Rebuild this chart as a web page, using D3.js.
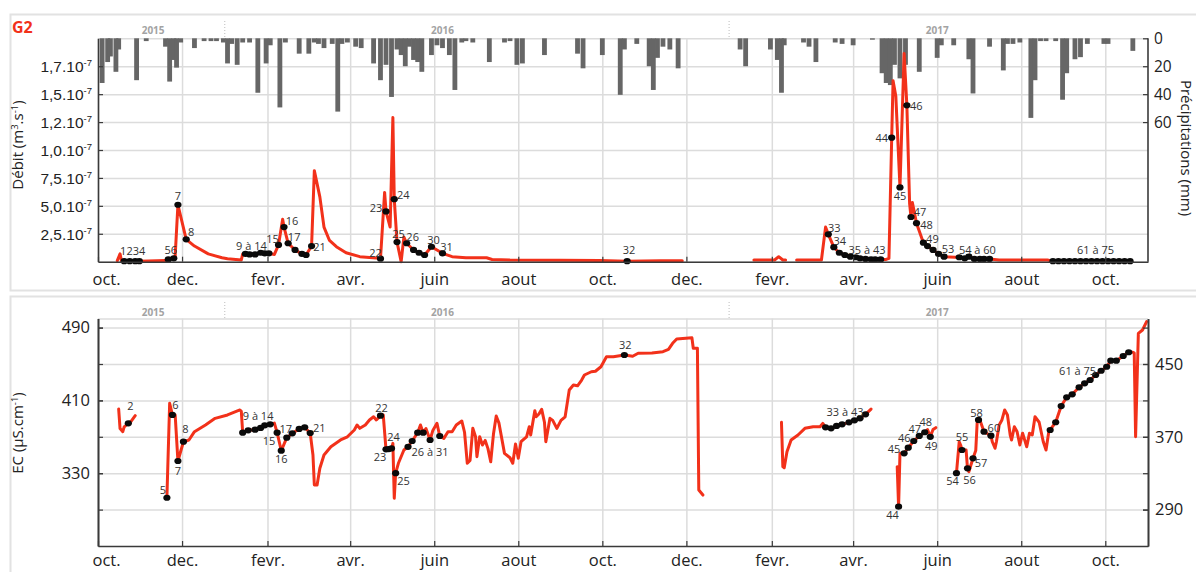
<!DOCTYPE html>
<html>
<head>
<meta charset="utf-8">
<script src="https://cdn.jsdelivr.net/npm/d3@7"></script>
<style>
  body { margin: 0; background: #fff; }
  svg { display: block; font-family: "Open Sans", "DejaVu Sans", sans-serif; }
</style>
</head>
<body>
<svg id="chart" width="1196" height="572"></svg>
<script>
// ---------------------------------------------------------------------------
// Data
// ---------------------------------------------------------------------------
const monthTickDates = ["2015-10-01","2015-12-01","2016-02-01","2016-04-01","2016-06-01","2016-08-01",
  "2016-10-01","2016-12-01","2017-02-01","2017-04-01","2017-06-01","2017-08-01","2017-10-01"];
const monthLabels = ["oct.","dec.","fevr.","avr.","juin","aout","oct.","dec.","fevr.","avr.","juin","aout","oct."];

const yearLabels = ["2015", "2016", "2017"];
const yearLabelDates = ["2015-11-10", "2016-06-07", "2017-06-01"];
const yearBreakDates = ["2016-01-01", "2017-01-01"];

// discharge axis (plotted units), with its printed labels
const debitTicks = [2.5, 5, 7.5, 10, 12.5, 15, 17.5];
const debitTickText = ["2,5.10", "5,0.10", "7,5.10", "1,0.10", "1,2.10", "1,5.10", "1,7.10"];
const debitTickExp = "-7";
const precipTicks = [0, 20, 40, 60];
const ecTicksLeft = [330, 410, 490];
const ecTicksRight = [290, 370, 450];
const ecGrid = [290, 330, 370, 410, 450, 490];

// daily rainfall (mm)
const precip = [
  ["2015-10-04",32],["2015-10-08",17],["2015-10-10",13],["2015-10-14",24],["2015-10-16",8],["2015-10-29",30],
  ["2015-11-05",2],["2015-11-19",6],["2015-11-22",31],["2015-11-25",15.5],["2015-11-27",21],["2015-11-30",3],
  ["2015-12-10",7],["2015-12-17",2],["2015-12-22",2],["2015-12-26",2],["2015-12-31",3],["2016-01-03",18],
  ["2016-01-06",4],["2016-01-10",19],["2016-01-14",3],["2016-01-19",3],["2016-01-25",39],["2016-01-31",18],
  ["2016-02-03",5],["2016-02-10",49.5],["2016-02-14",3],["2016-02-24",11],["2016-03-02",11],["2016-03-06",3],
  ["2016-03-09",4],["2016-03-13",7],["2016-03-19",4],["2016-03-23",52.5],["2016-03-26",4],["2016-03-30",3],
  ["2016-04-05",6],["2016-04-09",7],["2016-04-18",18],["2016-04-23",30],["2016-04-27",19],["2016-05-01",42],
  ["2016-05-05",8],["2016-05-08",12],["2016-05-11",20],["2016-05-14",6],["2016-05-17",15.5],["2016-05-20",17],
  ["2016-05-23",24],["2016-05-30",12],["2016-06-03",5],["2016-06-07",7],["2016-06-12",12],["2016-06-16",37],
  ["2016-06-21",3],["2016-06-24",2],["2016-06-29",3],["2016-07-11",17],["2016-07-22",3],["2016-07-26",2],
  ["2016-07-31",19],["2016-08-04",18],["2016-08-20",12],["2016-09-13",11],["2016-09-17",21.5],["2016-10-01",12],
  ["2016-10-14",40.5],["2016-10-17",8],["2016-10-26",4],["2016-11-04",20],["2016-11-07",37],["2016-11-10",14],
  ["2016-11-14",6],["2016-11-19",8],["2016-11-25",21.5],["2017-01-09",8],["2017-01-13",20],["2017-01-31",8],
  ["2017-02-05",15.5],["2017-02-08",39],["2017-02-10",5],["2017-02-24",3],["2017-02-28",6],["2017-03-05",17],
  ["2017-03-19",3],["2017-03-24",4],["2017-04-01",5],["2017-04-15",1],["2017-04-22",25],["2017-04-25",32],
  ["2017-04-28",33.5],["2017-05-01",19],["2017-05-05",28.7],["2017-05-09",19],["2017-05-19",24],["2017-06-01",14],
  ["2017-06-04",5],["2017-06-13",5],["2017-06-24",15],["2017-06-27",39.5],["2017-07-09",6],["2017-07-19",23],
  ["2017-07-22",4],["2017-07-26",4],["2017-07-31",3],["2017-08-08",57],["2017-08-11",30],["2017-08-15",2],
  ["2017-08-19",2],["2017-08-26",2],["2017-08-31",44],["2017-09-03",25],["2017-09-09",15],["2017-09-13",13.5],
  ["2017-09-18",4],["2017-09-30",4],["2017-10-03",4],["2017-10-21",9]
];

// discharge (plotted units); null marks a gap in the record
const debit = [
  ["2015-10-15",0.1],["2015-10-17",0.7],["2015-10-18",0.1],["2015-10-20",0.05],["2015-10-24",0.05],
  ["2015-10-28",0.05],["2015-10-31",0.05],["2015-11-19",0.1],["2015-11-21",0.2],["2015-11-25",0.3],
  ["2015-11-26",0.5],["2015-11-28",5.1],["2015-12-04",2.0],["2015-12-10",1.4],["2015-12-20",0.7],
  ["2015-12-30",0.35],["2016-01-03",0.27],["2016-01-13",0.15],["2016-01-14",0.69],["2016-01-16",0.7],
  ["2016-01-19",0.65],["2016-01-23",0.65],["2016-01-27",0.8],["2016-01-30",0.75],["2016-02-02",0.75],
  ["2016-02-06",0.65],["2016-02-09",1.5],["2016-02-12",3.8],["2016-02-13",3.1],["2016-02-16",1.65],
  ["2016-02-21",1.05],["2016-02-26",0.7],["2016-02-29",0.6],["2016-03-04",1.4],["2016-03-06",8.15],
  ["2016-03-10",5.8],["2016-03-13",3.1],["2016-03-17",1.9],["2016-03-22",1.34],["2016-03-29",0.8],
  ["2016-04-08",0.45],["2016-04-22",0.3],["2016-04-23",0.27],["2016-04-26",6.2],["2016-04-27",4.5],
  ["2016-04-30",3.1],["2016-05-02",12.9],["2016-05-03",5.6],["2016-05-05",1.76],["2016-05-08",0.0],
  ["2016-05-10",2.2],["2016-05-12",1.65],["2016-05-17",1.05],["2016-05-21",0.8],["2016-05-25",0.6],
  ["2016-05-30",1.34],["2016-06-07",0.75],["2016-06-14",0.45],["2016-06-24",0.35],["2016-07-09",0.35],
  ["2016-07-13",0.2],["2016-07-26",0.15],["2016-08-31",0.12],["2016-09-29",0.1],["2016-10-19",0.05],
  ["2016-11-12",0.08],["2016-11-28",0.08],
  ["2016-12-15",null],
  ["2017-01-19",0.15],["2017-02-03",0.15],["2017-02-06",0.45],["2017-02-09",0.15],["2017-02-11",0.15],
  ["2017-02-15",null],
  ["2017-02-19",0.15],["2017-03-09",0.15],["2017-03-12",3.1],["2017-03-14",2.45],["2017-03-18",1.3],
  ["2017-03-22",0.8],["2017-03-26",0.6],["2017-03-30",0.45],["2017-04-03",0.4],["2017-04-06",0.3],
  ["2017-04-10",0.25],["2017-04-14",0.22],["2017-04-17",0.2],["2017-04-21",0.2],["2017-04-25",0.2],
  ["2017-04-27",0.3],["2017-04-29",11.1],["2017-04-30",16.2],["2017-05-02",14.8],["2017-05-05",6.65],
  ["2017-05-08",18.65],["2017-05-10",14.0],["2017-05-12",5.2],["2017-05-13",4.0],["2017-05-14",5.3],
  ["2017-05-17",3.45],["2017-05-22",1.7],["2017-05-25",1.4],["2017-05-29",1.05],["2017-06-02",0.7],
  ["2017-06-06",0.45],["2017-06-14",0.4],["2017-06-17",0.4],["2017-06-21",0.3],["2017-06-24",0.45],
  ["2017-06-28",0.25],["2017-07-02",0.25],["2017-07-05",0.25],["2017-07-09",0.25],["2017-07-16",0.15],
  ["2017-08-20",0.15],["2017-08-24",0.05],["2017-09-21",0.05],["2017-10-19",0.05]
];

// electrical conductivity (µS/cm); null marks a gap in the record
const ec = [
  ["2015-10-16",400.5],["2015-10-17",379],["2015-10-19",375.6],["2015-10-20",381],["2015-10-23",384.8],
  ["2015-10-25",387],["2015-10-28",393.2],
  ["2015-11-05",null],
  ["2015-11-20",303],["2015-11-22",406.8],["2015-11-24",394],["2015-11-26",394],["2015-11-28",343.4],
  ["2015-12-02",364.6],["2015-12-06",366.5],["2015-12-10",375.6],["2015-12-18",383],["2015-12-25",390.3],
  ["2016-01-03",394],["2016-01-12",399.5],["2016-01-13",398],["2016-01-14",374.5],["2016-01-18",377.1],
  ["2016-01-23",377.8],["2016-01-27",379.7],["2016-01-30",382.6],["2016-02-03",383.7],["2016-02-06",385],
  ["2016-02-08",374.5],["2016-02-11",354.7],["2016-02-15",369],["2016-02-19",373.8],["2016-02-24",378.6],
  ["2016-02-28",380.4],["2016-03-03",374.2],["2016-03-05",350],["2016-03-06",317],["2016-03-08",317],
  ["2016-03-10",335.4],["2016-03-13",350],["2016-03-18",359],["2016-03-25",366.5],["2016-03-30",370],
  ["2016-04-04",377.5],["2016-04-06",383],["2016-04-08",379.3],["2016-04-12",383],["2016-04-15",388.5],
  ["2016-04-18",392],["2016-04-20",388.5],["2016-04-23",393.2],["2016-04-25",394],["2016-04-27",356.2],
  ["2016-04-29",356.5],["2016-05-01",357.2],["2016-05-02",362.8],["2016-05-03",302.4],["2016-05-04",330],
  ["2016-05-06",340.9],["2016-05-10",355.5],["2016-05-13",359],["2016-05-16",365.4],["2016-05-20",374.5],
  ["2016-05-22",383],["2016-05-24",374.5],["2016-05-26",379],["2016-05-29",366.5],["2016-05-31",377],
  ["2016-06-03",384.8],["2016-06-05",370.9],["2016-06-08",368.3],["2016-06-11",375.6],["2016-06-14",375.6],
  ["2016-06-17",383],["2016-06-21",387.4],["2016-06-23",375],["2016-06-25",340.9],["2016-06-27",344],
  ["2016-06-29",379.3],["2016-07-01",370],["2016-07-02",348.2],["2016-07-04",370],["2016-07-06",361],
  ["2016-07-08",366],["2016-07-10",357],["2016-07-12",342.6],["2016-07-14",373],["2016-07-16",392.9],
  ["2016-07-18",385],["2016-07-22",351.8],["2016-07-26",347],["2016-07-28",340.9],["2016-07-30",362],
  ["2016-08-01",346.4],["2016-08-03",364.6],["2016-08-07",370],["2016-08-09",381.1],["2016-08-10",372],
  ["2016-08-13",398.7],["2016-08-14",392],["2016-08-16",395],["2016-08-18",400.2],["2016-08-20",386],
  ["2016-08-21",364.6],["2016-08-24",390.3],["2016-08-26",388],["2016-08-29",379.3],["2016-09-01",388],
  ["2016-09-04",392],["2016-09-07",421.4],["2016-09-10",426.9],["2016-09-13",426],["2016-09-16",432.4],
  ["2016-09-18",437.9],["2016-09-23",441.5],["2016-09-26",442],["2016-09-30",447],["2016-10-02",452.5],
  ["2016-10-04",458],["2016-10-09",458],["2016-10-17",459.9],["2016-10-23",458.5],["2016-10-27",461.8],
  ["2016-11-06",462],["2016-11-14",463.5],["2016-11-18",466],["2016-11-21",472.7],["2016-11-24",477.5],
  ["2016-12-05",478.9],["2016-12-06",467.3],["2016-12-09",467.3],["2016-12-10",311.5],["2016-12-13",306],
  ["2017-01-10",null],
  ["2017-02-08",386],["2017-02-09",337.2],["2017-02-10",336],["2017-02-12",353.6],["2017-02-15",366.5],
  ["2017-02-20",372],["2017-02-25",379.3],["2017-03-03",381.1],["2017-03-08",381],["2017-03-10",384.8],
  ["2017-03-12",380.4],["2017-03-16",379.3],["2017-03-20",381.9],["2017-03-24",383.7],["2017-03-29",385.9],
  ["2017-04-02",388.1],["2017-04-06",390.3],["2017-04-10",394.7],["2017-04-14",400.5],
  ["2017-04-20",null],
  ["2017-05-03",337.2],["2017-05-04",293.2],["2017-05-05",351.8],["2017-05-08",351.8],["2017-05-11",358],
  ["2017-05-15",365.4],["2017-05-19",371],["2017-05-23",375],["2017-05-25",378],["2017-05-27",370],
  ["2017-05-29",378],["2017-05-31",380],
  ["2017-06-08",null],
  ["2017-06-15",330],["2017-06-17",364.6],["2017-06-18",361],["2017-06-19",355.5],["2017-06-22",355.5],
  ["2017-06-23",335.4],["2017-06-24",331.6],["2017-06-27",346.4],["2017-06-29",355],["2017-06-30",385],
  ["2017-07-01",388.5],["2017-07-02",388.5],["2017-07-05",375.6],["2017-07-10",371.2],["2017-07-11",364.6],
  ["2017-07-13",357.4],["2017-07-14",364.6],["2017-07-16",383],["2017-07-18",388.5],["2017-07-20",399.5],
  ["2017-07-22",394],["2017-07-24",372],["2017-07-25",366.5],["2017-07-27",381.1],["2017-07-29",375.6],
  ["2017-07-31",361],["2017-08-02",374],["2017-08-05",359],["2017-08-07",374],["2017-08-09",372],
  ["2017-08-11",392],["2017-08-14",386],["2017-08-17",364.6],["2017-08-19",355.5],["2017-08-21",375.6],
  ["2017-08-22",377.5],["2017-08-26",386],["2017-08-30",403.8],["2017-09-03",413.4],["2017-09-07",416.7],
  ["2017-09-12",424.4],["2017-09-16",428.8],["2017-09-20",432.4],["2017-09-24",437.9],["2017-09-28",442.6],
  ["2017-10-02",447],["2017-10-05",453.6],["2017-10-09",453.6],["2017-10-14",458.8],["2017-10-18",462.9],
  ["2017-10-21",463],["2017-10-22",462],["2017-10-23",370],["2017-10-25",483.7],["2017-10-28",487.4],
  ["2017-10-31",496.5]
];

// sampling dates (id, date) on each record
const debitSamples = [
  ["1","2015-10-20"],["2","2015-10-24"],["3","2015-10-28"],["4","2015-10-31"],["5","2015-11-21"],["6","2015-11-25"],
  ["7","2015-11-28"],["8","2015-12-04"],["9","2016-01-16"],["10","2016-01-19"],["11","2016-01-23"],["12","2016-01-27"],
  ["13","2016-01-30"],["14","2016-02-02"],["15","2016-02-09"],["16","2016-02-13"],["17","2016-02-16"],["18","2016-02-21"],
  ["19","2016-02-26"],["20","2016-02-29"],["21","2016-03-04"],["22","2016-04-23"],["23","2016-04-27"],["24","2016-05-03"],
  ["25","2016-05-05"],["26","2016-05-12"],["27","2016-05-17"],["28","2016-05-21"],["29","2016-05-25"],["30","2016-05-30"],
  ["31","2016-06-07"],["32","2016-10-19"],["33","2017-03-14"],["34","2017-03-18"],["35","2017-03-22"],["36","2017-03-26"],
  ["37","2017-03-30"],["38","2017-04-03"],["39","2017-04-06"],["40","2017-04-10"],["41","2017-04-14"],["42","2017-04-17"],
  ["43","2017-04-21"],["44","2017-04-29"],["45","2017-05-05"],["46","2017-05-10"],["47","2017-05-13"],["48","2017-05-17"],
  ["49","2017-05-22"],["50","2017-05-25"],["51","2017-05-29"],["52","2017-06-02"],["53","2017-06-06"],["54","2017-06-17"],
  ["55","2017-06-21"],["56","2017-06-24"],["57","2017-06-28"],["58","2017-07-02"],["59","2017-07-05"],["60","2017-07-09"],
  ["61","2017-08-24"],["62","2017-08-28"],["63","2017-09-01"],["64","2017-09-05"],["65","2017-09-09"],["66","2017-09-13"],
  ["67","2017-09-17"],["68","2017-09-21"],["69","2017-09-25"],["70","2017-09-29"],["71","2017-10-03"],["72","2017-10-07"],
  ["73","2017-10-11"],["74","2017-10-15"],["75","2017-10-19"]
];
const ecSamples = [
  ["2","2015-10-23"],["5","2015-11-20"],["6","2015-11-24"],["7","2015-11-28"],["8","2015-12-02"],
  ["9","2016-01-14"],["10","2016-01-18"],["11","2016-01-23"],["12","2016-01-27"],["13","2016-01-30"],["14","2016-02-03"],
  ["15","2016-02-08"],["16","2016-02-11"],["17","2016-02-15"],["18","2016-02-19"],["19","2016-02-24"],["20","2016-02-28"],
  ["21","2016-03-03"],["22","2016-04-23"],["23","2016-04-27"],["23b","2016-04-29"],["24","2016-05-01"],["25","2016-05-04"],
  ["26","2016-05-13"],["27","2016-05-16"],["28","2016-05-20"],["29","2016-05-24"],["30","2016-05-29"],["31","2016-06-05"],
  ["32","2016-10-17"],["33","2017-03-12"],["34","2017-03-16"],["35","2017-03-20"],["36","2017-03-24"],["37","2017-03-29"],
  ["38","2017-04-02"],["39","2017-04-06"],["40","2017-04-10"],["44","2017-05-04"],["45","2017-05-08"],["46","2017-05-11"],
  ["47","2017-05-15"],["47b","2017-05-19"],["48","2017-05-23"],["49","2017-05-27"],["54","2017-06-15"],["55","2017-06-19"],
  ["56","2017-06-23"],["57","2017-06-27"],["58","2017-07-01"],["59","2017-07-05"],["60","2017-07-10"],
  ["61","2017-08-22"],["62","2017-08-26"],["63","2017-08-30"],["64","2017-09-03"],["65","2017-09-07"],["66","2017-09-12"],
  ["67","2017-09-16"],["68","2017-09-20"],["69","2017-09-24"],["70","2017-09-28"],["71","2017-10-02"],["72","2017-10-05"],
  ["73","2017-10-09"],["74","2017-10-14"],["75","2017-10-18"]
];

// sample labels: text, sample it belongs to
const debitLabels = [
  ["1234","2"],["56","5"],["7","7"],["8","8"],["9 à 14","9"],["15","15"],["16","16"],["17","17"],["21","21"],
  ["22","22"],["23","23"],["24","24"],["25","25"],["26","26"],["30","30"],["31","31"],["32","32"],["33","33"],
  ["34","34"],["35 à 43","39"],["44","44"],["45","45"],["46","46"],["47","47"],["48","48"],["49","49"],["53","53"],
  ["54 à 60","57"],["61 à 75","68"]
];
const ecLabels = [
  ["2","2"],["5","5"],["6","6"],["7","7"],["8","8"],["9 à 14","11"],["15","15"],["16","16"],["17","17"],["21","21"],
  ["22","22"],["23","23"],["24","24"],["25","25"],["26 à 31","30"],["32","32"],["33 à 43","37"],["44","44"],["45","45"],
  ["46","46"],["47","47"],["48","48"],["49","49"],["54","54"],["55","55"],["56","56"],["57","57"],["58","58"],["60","60"],
  ["61 à 75","67"]
];

// ---------------------------------------------------------------------------
// Layout
// ---------------------------------------------------------------------------
// label offsets (px) from the sample dot to the label centre
const debitLabelOffset = {
  "1234":[3,-10.5],"56":[2.5,-9.5],"7":[0,-9.5],"8":[5,-7.5],"9 à 14":[6,-8],"15":[-6,-6],"16":[8,-7],"17":[6,-7],
  "21":[8,0.5],"22":[-5,-6],"23":[-10,-4],"24":[9,-5],"25":[1.5,-9],"26":[6,-7],"30":[2,-7.5],"31":[4,-7],
  "32":[2,-11.5],"33":[6,-7],"34":[6,-7],"35 à 43":[7,-8.7],"44":[-10,0],"45":[0,8],"46":[9.5,0],"47":[9,-6],
  "48":[10,1],"49":[9,-4],"53":[4,-8],"54 à 60":[3,-9],"61 à 75":[4,-11.5]
};
const ecLabelOffset = {
  "2":[2,-18],"5":[-4,-8],"6":[3,-10],"7":[0,9],"8":[2,-13],"9 à 14":[3,-14],"15":[-8,8],"16":[0,8],"17":[-1,-9],
  "21":[9,-5],"22":[1,-8],"23":[-6,7],"24":[2,-12],"25":[8,7],"26 à 31":[0,12],"32":[1,-10],"33 à 43":[-4,-11],
  "44":[-6,8],"45":[-10,-5],"46":[-4,-10.5],"47":[1,-12.5],"48":[1,-11],"49":[1,8.5],"54":[-4,7],"55":[0,-13],
  "56":[2,11],"57":[8,4],"58":[-2,-7],"60":[3,-8],"61 à 75":[-7,-13]
};

const RED = "#f2311a";
const GRID = "#dcdcdc";
const AXIS = "#3a3a3a";
const TEXT = "#222";

const parse = d3.timeParse("%Y-%m-%d");
const svg = d3.select("#chart");

const X0 = 98, X1 = 1148;
const x = d3.scaleTime().domain([parse("2015-10-01"), parse("2017-11-01")]).range([X0, X1]);

const P1 = { t: 38.3, b: 261.7 };   // discharge / rainfall panel
const P2 = { t: 318.5, b: 546 };    // conductivity panel

const yQ = d3.scaleLinear().domain([0, 20]).range([P1.b, P1.t]);
const yP = d3.scaleLinear().domain([0, 160]).range([P1.t, P1.b]);
const yE = d3.scaleLinear().domain([250, 500]).range([P2.b, P2.t]);

const monthDates = monthTickDates.map(parse);

// value of a record at a given date
function valueAt(series, dateStr) {
  const t = parse(dateStr).getTime();
  for (let i = 0; i < series.length; i++) {
    const [d, v] = series[i];
    const ti = parse(d).getTime();
    if (ti === t && v != null) return v;
    if (i + 1 < series.length) {
      const [d2, v2] = series[i + 1];
      const t2 = parse(d2).getTime();
      if (v != null && v2 != null && ti < t && t < t2) return v + (v2 - v) * (t - ti) / (t2 - ti);
    }
  }
  return null;
}

// text made of plain and raised (exponent) parts
function supText(sel, parts, supSize, rise) {
  let raised = false;
  parts.forEach(([s, sup]) => {
    const ts = sel.append("tspan").text(s);
    if (sup) {
      ts.attr("font-size", supSize).attr("dy", raised ? 0 : -rise);
      raised = true;
    } else if (raised) {
      ts.attr("dy", rise);
      raised = false;
    }
  });
}

// ---------------------------------------------------------------------------
// Frames and year headers
// ---------------------------------------------------------------------------
svg.append("rect").attr("x", 10.5).attr("y", 14.5).attr("width", 1200).attr("height", 276)
  .attr("fill", "none").attr("stroke", "#e2e2e2").attr("stroke-width", 2);
svg.append("rect").attr("x", 10.5).attr("y", 296.5).attr("width", 1200).attr("height", 290)
  .attr("fill", "none").attr("stroke", "#e2e2e2").attr("stroke-width", 2);

[[30, 21, 37], [312, 302, 318]].forEach(([ty, s0, s1]) => {
  svg.append("g").selectAll("text").data(yearLabels).join("text")
    .attr("x", (d, i) => x(parse(yearLabelDates[i]))).attr("y", ty + 3.5)
    .attr("text-anchor", "middle").attr("font-size", 10).attr("font-weight", "bold")
    .attr("fill", "#a3a3a3").text(d => d);
  svg.append("g").selectAll("line").data(yearBreakDates).join("line")
    .attr("x1", d => x(parse(d))).attr("x2", d => x(parse(d)))
    .attr("y1", s0).attr("y2", s1)
    .attr("stroke", "#bdbdbd").attr("stroke-width", 1).attr("stroke-dasharray", "1,2");
});

svg.append("text").attr("x", 12).attr("y", 33).attr("font-size", 16).attr("font-weight", "bold")
  .attr("fill", RED).text("G2");

// ---------------------------------------------------------------------------
// Grids
// ---------------------------------------------------------------------------
function grid(panel, yScale, values) {
  const g = svg.append("g");
  g.append("g").attr("transform", `translate(${X0},0)`)
    .call(d3.axisLeft(yScale).tickValues(values).tickSize(-(X1 - X0)).tickFormat(""));
  g.append("g").attr("transform", `translate(0,${panel.b})`)
    .call(d3.axisBottom(x).tickValues(monthDates).tickSize(-(panel.b - panel.t)).tickFormat(""));
  g.selectAll(".domain").remove();
  g.selectAll(".tick line").attr("stroke", GRID).attr("stroke-width", 1.5);
}
grid(P1, yQ, d3.range(0, 20.01, 2.5));
grid(P2, yE, ecGrid.concat([500]));

// ---------------------------------------------------------------------------
// Rainfall bars (hanging from the top of the panel)
// ---------------------------------------------------------------------------
const dayPx = x(parse("2016-01-02")) - x(parse("2016-01-01"));
const barW = dayPx * 3.5;
svg.append("g").selectAll("rect").data(precip).join("rect")
  .attr("x", d => x(parse(d[0])) - barW / 2)
  .attr("y", yP(0))
  .attr("width", barW)
  .attr("height", d => yP(d[1]) - yP(0))
  .attr("fill", "#666");

// ---------------------------------------------------------------------------
// Lines, sample dots and labels
// ---------------------------------------------------------------------------
function drawRecord(series, yScale, samples, labels, offsets) {
  const line = d3.line()
    .defined(d => d[1] != null)
    .x(d => x(parse(d[0])))
    .y(d => yScale(d[1]));
  svg.append("path").datum(series).attr("d", line)
    .attr("fill", "none").attr("stroke", RED).attr("stroke-width", 3)
    .attr("stroke-linejoin", "round").attr("stroke-linecap", "round");

  const pos = {};
  samples.forEach(([id, d]) => { pos[id] = [x(parse(d)), yScale(valueAt(series, d))]; });

  svg.append("g").selectAll("ellipse").data(samples).join("ellipse")
    .attr("cx", d => pos[d[0]][0]).attr("cy", d => pos[d[0]][1])
    .attr("rx", 3.6).attr("ry", 3.1).attr("fill", "#0a0a0a");

  svg.append("g").selectAll("text").data(labels).join("text")
    .attr("x", d => pos[d[1]][0] + offsets[d[0]][0])
    .attr("y", d => pos[d[1]][1] + offsets[d[0]][1])
    .attr("text-anchor", "middle").attr("dominant-baseline", "central")
    .attr("font-size", 11).attr("fill", "#333").text(d => d[0]);
}
drawRecord(debit, yQ, debitSamples, debitLabels, debitLabelOffset);
drawRecord(ec, yE, ecSamples, ecLabels, ecLabelOffset);

// ---------------------------------------------------------------------------
// Axes
// ---------------------------------------------------------------------------
function styleAxis(g, fs) {
  g.select(".domain").attr("stroke", AXIS).attr("stroke-width", 1.6);
  g.selectAll(".tick line").attr("stroke", AXIS).attr("stroke-width", 1.2);
  g.selectAll(".tick text").attr("fill", TEXT).attr("font-size", fs)
    .attr("font-family", "'Open Sans', sans-serif");
}

function monthAxis(panel, baseline) {
  const g = svg.append("g").attr("transform", `translate(0,${panel.b})`)
    .call(d3.axisBottom(x).tickValues(monthDates).tickSize(-5).tickSizeOuter(0)
      .tickFormat((d, i) => monthLabels[i]));
  styleAxis(g, 16.5);
  g.selectAll(".tick text").attr("y", baseline).attr("dy", null)
    .attr("dx", (d, i) => i === 0 ? 8 : 0);
}
monthAxis(P1, 23);
monthAxis(P2, 20);

// discharge axis (left, top panel)
{
  const g = svg.append("g").attr("transform", `translate(${X0},0)`)
    .call(d3.axisLeft(yQ).tickValues(debitTicks).tickSize(-5).tickSizeOuter(0).tickFormat(""));
  styleAxis(g, 15.5);
  g.selectAll(".tick").each(function (d, i) {
    const t = d3.select(this).append("text").attr("x", -6).attr("y", 5.5)
      .attr("text-anchor", "end").attr("font-size", 15.5).attr("fill", TEXT);
    t.append("tspan").text(debitTickText[i]);
    t.append("tspan").attr("font-size", 9.5).attr("dy", -6).text(debitTickExp);
  });
}
// rainfall axis (right, top panel)
{
  const g = svg.append("g").attr("transform", `translate(${X1},0)`)
    .call(d3.axisRight(yP).tickValues(precipTicks).tickSize(-5).tickSizeOuter(0).tickPadding(6));
  styleAxis(g, 15.5);
  g.select(".domain").attr("d", `M0,${P1.t}V${P1.b}`);
}
// conductivity axes (both sides, bottom panel)
{
  const gInner = svg.append("g").attr("transform", `translate(${X0},0)`)
    .call(d3.axisLeft(yE).tickValues(ecGrid).tickSize(-5).tickSizeOuter(0).tickFormat(""));
  styleAxis(gInner, 16);
  const gl = svg.append("g").attr("transform", `translate(${X0},0)`)
    .call(d3.axisLeft(yE).tickValues(ecTicksLeft).tickSize(-5).tickSizeOuter(0).tickPadding(8));
  styleAxis(gl, 16.5);
  const gr2 = svg.append("g").attr("transform", `translate(${X1},0)`)
    .call(d3.axisRight(yE).tickValues(ecGrid).tickSize(-5).tickSizeOuter(0).tickFormat(""));
  styleAxis(gr2, 16);
  const gr = svg.append("g").attr("transform", `translate(${X1},0)`)
    .call(d3.axisRight(yE).tickValues(ecTicksRight).tickSize(-5).tickSizeOuter(0).tickPadding(7));
  styleAxis(gr, 16.5);
}

// ---------------------------------------------------------------------------
// Axis titles
// ---------------------------------------------------------------------------
function title(tx, ty, rot, parts) {
  const t = svg.append("text").attr("transform", `translate(${tx},${ty}) rotate(${rot})`)
    .attr("text-anchor", "middle").attr("font-size", 15).attr("fill", TEXT);
  supText(t, parts, 9.5, 5);
}
title(23, 145, -90, [["Débit (m"], ["3", true], [".s"], ["-1", true], [")"]]);
title(1181, 148, 90, [["Précipitations (mm)"]]);
title(23, 433, -90, [["EC (µS.cm"], ["-1", true], [")"]]);
</script>
</body>
</html>
